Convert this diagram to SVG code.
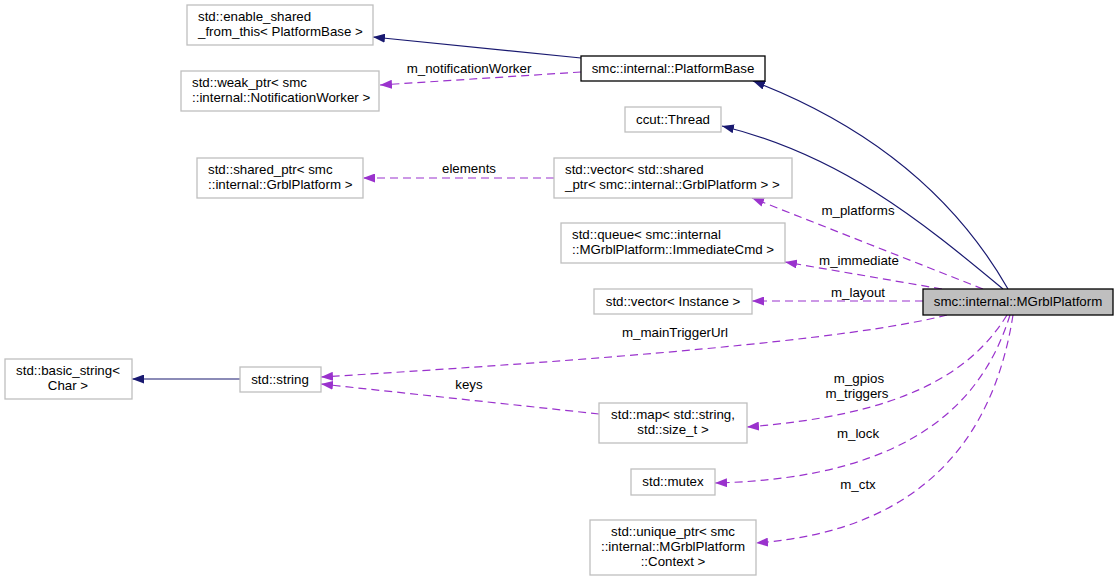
<svg xmlns="http://www.w3.org/2000/svg" width="1119" height="581" viewBox="0 0 1119 581">
<style>
text{font-family:"Liberation Sans",Arial,sans-serif;font-size:13.3px;fill:#000}
.nb{fill:#fff;stroke:#bfbfbf;stroke-width:1.3}
.nk{fill:#fff;stroke:#000;stroke-width:1.3}
.nm{fill:#bfbfbf;stroke:#000;stroke-width:1.3}
.c{text-anchor:middle}
.inh{fill:none;stroke:#191970;stroke-width:1.2;marker-end:url(#an)}
.use{fill:none;stroke:#9a32cd;stroke-width:1.2;stroke-dasharray:8,5;marker-end:url(#ap)}
</style>
<defs>
<marker id="an" markerUnits="userSpaceOnUse" markerWidth="12" markerHeight="9" refX="12" refY="4.5" orient="auto"><path d="M0,0 L12,4.5 L0,9 z" fill="#191970"/></marker>
<marker id="ap" markerUnits="userSpaceOnUse" markerWidth="12" markerHeight="9" refX="12" refY="4.5" orient="auto"><path d="M0,0 L12,4.5 L0,9 z" fill="#9a32cd"/></marker>
</defs>
<rect width="1119" height="581" fill="#fff"/>
<g id="connectors">
<path class="inh" d="M1008,289 C960,205 880,130 753,81"/>
<path class="inh" d="M1003,289 C920,220 840,155 722,126"/>
<path class="inh" d="M581,58 L373,37"/>
<path class="use" d="M581,72 L380,85"/>
<path class="use" d="M554,178 L363,178"/>
<path class="use" d="M983,289 L752,198"/>
<path class="use" d="M942,289 L785,262"/>
<path class="use" d="M923,301 L752,301"/>
<path class="use" d="M947,315 C850,340 600,360 321,377"/>
<path class="use" d="M599,414 L321,384"/>
<path class="inh" d="M240,379 L132,379"/>
<path class="use" d="M1007,315 C970,375 900,415 747,427"/>
<path class="use" d="M1010,315 C985,395 920,478 715,483"/>
<path class="use" d="M1013,315 C995,430 930,530 756,543"/>
<text class="c" x="469" y="73">m_notificationWorker</text>
<text class="c" x="469" y="173">elements</text>
<text class="c" x="858" y="215">m_platforms</text>
<text class="c" x="859" y="265">m_immediate</text>
<text class="c" x="858" y="297">m_layout</text>
<text class="c" x="675" y="337">m_mainTriggerUrl</text>
<text class="c" x="469" y="389">keys</text>
<text class="c" x="859" y="383">m_gpios</text>
<text class="c" x="857" y="398">m_triggers</text>
<text class="c" x="858" y="438">m_lock</text>
<text class="c" x="858" y="489">m_ctx</text>
</g>
<g id="n_esft"><rect class="nb" x="187" y="5" width="186" height="40"/><text x="198" y="21">std::enable_shared</text><text x="198" y="36">_from_this&lt; PlatformBase &gt;</text></g>
<g id="n_weak"><rect class="nb" x="181" y="71" width="198" height="40"/><text x="192" y="87">std::weak_ptr&lt; smc</text><text x="192" y="102">::internal::NotificationWorker &gt;</text></g>
<g id="n_sharedptr"><rect class="nb" x="197" y="158" width="166" height="40"/><text x="208" y="174">std::shared_ptr&lt; smc</text><text x="208" y="189">::internal::GrblPlatform &gt;</text></g>
<g id="n_pbase"><rect class="nk" x="581" y="56" width="184" height="25"/><text class="c" x="673" y="73">smc::internal::PlatformBase</text></g>
<g id="n_thread"><rect class="nb" x="625" y="107" width="96" height="25"/><text class="c" x="673" y="124">ccut::Thread</text></g>
<g id="n_vec"><rect class="nb" x="554" y="158" width="238" height="40"/><text x="565" y="174">std::vector&lt; std::shared</text><text x="565" y="189">_ptr&lt; smc::internal::GrblPlatform &gt; &gt;</text></g>
<g id="n_queue"><rect class="nb" x="561" y="223" width="224" height="40"/><text x="572" y="239">std::queue&lt; smc::internal</text><text x="572" y="254">::MGrblPlatform::ImmediateCmd &gt;</text></g>
<g id="n_vecinst"><rect class="nb" x="594" y="289" width="158" height="25"/><text class="c" x="673" y="306">std::vector&lt; Instance &gt;</text></g>
<g id="n_mgrbl"><rect class="nm" x="923" y="289" width="190" height="26"/><text class="c" x="1018" y="306">smc::internal::MGrblPlatform</text></g>
<g id="n_basic"><rect class="nb" x="5" y="359" width="127" height="40"/><text class="c" x="68" y="375">std::basic_string&lt;</text><text class="c" x="68" y="390">Char &gt;</text></g>
<g id="n_string"><rect class="nb" x="240" y="367" width="81" height="25"/><text class="c" x="280" y="384">std::string</text></g>
<g id="n_map"><rect class="nb" x="599" y="403" width="148" height="40"/><text class="c" x="673" y="419">std::map&lt; std::string,</text><text class="c" x="673" y="434">std::size_t &gt;</text></g>
<g id="n_mutex"><rect class="nb" x="631" y="469" width="84" height="26"/><text class="c" x="673" y="486">std::mutex</text></g>
<g id="n_unique"><rect class="nb" x="590" y="520" width="166" height="55"/><text class="c" x="673" y="536">std::unique_ptr&lt; smc</text><text class="c" x="673" y="551">::internal::MGrblPlatform</text><text class="c" x="673" y="566">::Context &gt;</text></g>
</svg>
